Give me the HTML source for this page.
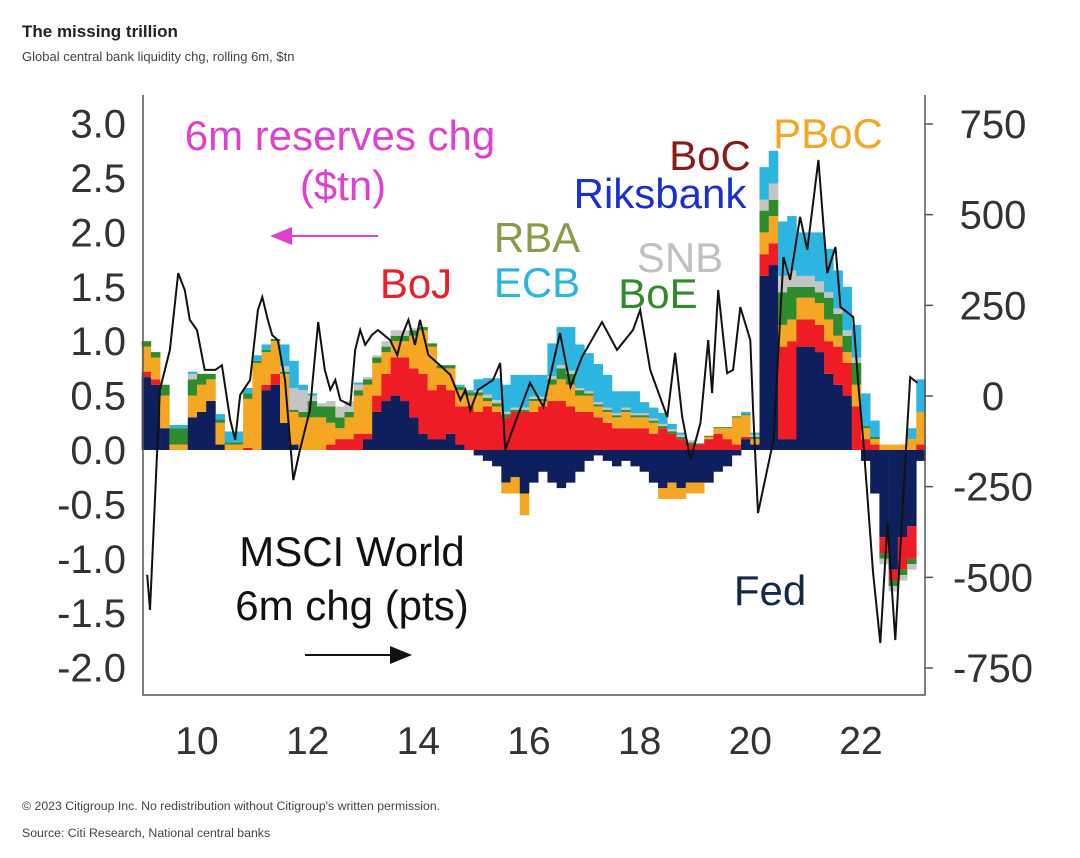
<!DOCTYPE html>
<html><head><meta charset="utf-8"><style>
body{margin:0;background:#fff;}
svg{display:block;font-family:"Liberation Sans",sans-serif;}
</style></head><body>
<svg id="chart" width="1080" height="858" viewBox="0 0 1080 858">
<text x="22" y="37" font-size="17" font-weight="bold" fill="#222">The missing trillion</text>
<text x="22" y="61" font-size="13" fill="#444">Global central bank liquidity chg, rolling 6m, $tn</text>
<g id="bars"></g>
<g id="axes"></g>
<path id="msci" fill="none" stroke="#111" stroke-width="2"/>
<g font-size="42" text-anchor="middle">
<text x="340" y="150" fill="#e040d0">6m reserves chg</text>
<text x="343" y="200" fill="#e040d0">($tn)</text>
<text x="416" y="298" fill="#e8202a">BoJ</text>
<text x="537" y="252" fill="#8a9a4a">RBA</text>
<text x="537" y="297" fill="#2bb5e0">ECB</text>
<text x="680" y="272" fill="#c0c0c0">SNB</text>
<text x="658" y="308" fill="#2e8b2e">BoE</text>
<text x="710" y="170" fill="#8b1a1a">BoC</text>
<text x="660" y="208" fill="#1a2fd0">Riksbank</text>
<text x="828" y="148" fill="#f5a623">PBoC</text>
<text x="352" y="566" fill="#111">MSCI World</text>
<text x="352" y="620" fill="#111">6m chg (pts)</text>
<text x="770" y="605" fill="#14284a">Fed</text>
</g>
<line x1="378" y1="236" x2="290" y2="236" stroke="#e040d0" stroke-width="2"/>
<polygon points="270,236 292,227 292,245" fill="#e040d0"/>
<line x1="305" y1="655" x2="392" y2="655" stroke="#111" stroke-width="2"/>
<polygon points="412,655 390,646 390,664" fill="#111"/>
<text x="22" y="810" font-size="12.3" fill="#444">© 2023 Citigroup Inc. No redistribution without Citigroup's written permission.</text>
<text x="22" y="837" font-size="12.3" fill="#444">Source: Citi Research, National central banks</text>
</svg>
<script>
const startYear = 9.0;
const fed = [0.67,0.6,0.2,0,0,0.3, 0.35,0.45,0.05,0,0,0, 0,0.55,0.6,0.25,0.05,0, 0,0,0,0,0,0, 0.1,0.35,0.45,0.5,0.45,0.3, 0.15,0.1,0.1,0.15,0.05,0, -0.05,-0.1,-0.15,-0.3,-0.25,-0.4, -0.3,-0.2,-0.3,-0.35,-0.3,-0.2, -0.1,-0.05,-0.1,-0.15,-0.1,-0.15, -0.2,-0.3,-0.35,-0.3,-0.35,-0.3, -0.3,-0.3,-0.2,-0.15,-0.05,0.1, 0.05,1.6,1.7,0.1,0.1,0.95, 0.95,0.9,0.7,0.6,0.5,0, -0.1,-0.4,-0.8,-1.1,-0.8,-0.7, -0.1];
const boj = [0.05,0.05,0,0,0,0, 0,0,0,0,0,0.02, 0,0.05,0.1,0,0,0, 0,0,0.05,0.1,0.1,0.15, 0.05,0.15,0.25,0.35,0.4,0.45, 0.55,0.45,0.5,0.4,0.35,0.4, 0.35,0.4,0.35,0.3,0.35,0.35, 0.35,0.4,0.45,0.45,0.4,0.35, 0.35,0.3,0.25,0.2,0.2,0.2, 0.2,0.15,0.2,0.15,0.1,0.05, 0.05,0.1,0.15,0.1,0.05,0.02, 0,0.2,0.2,0.85,0.9,0.25, 0.25,0.25,0.3,0.35,0.3,0.4, 0.1,0.05,-0.15,-0.1,-0.3,-0.3, 0.05];
const pboc = [0.23,0.2,0.3,0.05,0.05,0.2, 0.25,0.2,0.2,0.05,0.05,0.45, 0.8,0.3,0.3,0.45,0.3,0.3, 0.3,0.3,0.2,0.1,0.2,0.35, 0.45,0.3,0.2,0.15,0.15,0.3, 0.4,0.4,0.15,0.2,0.15,0.1, 0.15,0.05,0.05,-0.1,-0.15,-0.2, 0.1,0.05,0.15,0.2,0.2,0.15, 0.15,0.1,0.1,0.1,0.15,0.1, 0.1,0.1,-0.1,-0.15,-0.1,-0.1, -0.1,0.02,0.05,0.1,0.25,0.2, 0.05,0.2,0.25,0.2,0.2,0.2, 0.2,0.2,0.2,0.1,0.1,0.2, 0.1,0.05,0.05,0.05,0.05,0.1, 0.3];
const boe = [0.05,0.05,0.1,0.15,0.15,0.15, 0.1,0.05,0.03,0.02,0.02,0.05, 0.02,0.02,0.02,0.02,0.02,0.05, 0.15,0.1,0.15,0.1,0.05,0.05, 0.05,0.05,0.05,0.05,0.05,0.05, 0.03,0.03,0.03,0.03,0.03,0.03, 0.03,0.03,0.03,0.03,0.02,0.02, 0.02,0.02,0.05,0.1,0.1,0.05, 0.02,0.02,0.02,0.02,0.02,0.02, 0.02,0.02,0.02,0.02,0.02,0.02, 0.01,0.01,0.01,0.01,0.01,0.01, 0.02,0.2,0.15,0.3,0.3,0.1, 0.1,0.1,0.2,0.2,0.15,0.2, 0.02,0.02,-0.05,-0.05,-0.05,-0.05, 0];
const other = [0,0,0,0,0,0.05, 0,0,0,0,0,0, 0,0,0,0.05,0.2,0.2, 0.05,0.03,0.05,0.1,0.1,0.05, 0.02,0.02,0.05,0.05,0.05,0.02, 0,0,0,0,0,0, 0.02,0.03,0.03,0.02,0.02,0.02, 0.02,0.02,0.03,0.03,0.03,0.02, 0.02,0.02,0.02,0.02,0.02,0.02, 0.02,0.02,0.02,0.02,0.02,0.02, 0,0,0,0,0,0, 0.02,0.1,0.15,0.15,0.15,0.1, 0.1,0.1,0.05,0.05,0.05,0.05, 0,0,-0.05,-0.05,-0.05,-0.05, 0];
const ecb = [0,0,0,0.03,0.03,0.02, 0,0,0.05,0.1,0.1,0.05, 0.05,0.05,0,0.2,0.25,0.05, 0.02,0,0,0,0,0.02, 0,0,0,0,0,0, 0,0,0,0,0.02,0.02, 0.1,0.15,0.2,0.25,0.3,0.3, 0.2,0.2,0.3,0.35,0.4,0.4, 0.35,0.35,0.3,0.2,0.15,0.2, 0.1,0.1,0.1,0.05,0.02,0, 0,0,0,0,0,0.02, 0.02,0.3,0.3,0.5,0.5,0.4, 0.4,0.45,0.4,0.35,0.4,0.3, 0.3,0.15,0,0,0,0.1, 0.3];
const msciYears = [9.10,9.15,9.33,9.51,9.66,9.78,9.87,10.0,10.14,10.33,10.45,10.60,10.69,10.78,10.96,11.10,11.18,11.28,11.36,11.46,11.59,11.74,11.86,12.04,12.19,12.31,12.41,12.50,12.59,12.77,12.86,12.95,13.04,13.16,13.27,13.49,13.62,13.71,13.82,13.94,14.03,14.18,14.39,14.58,14.76,14.85,14.94,15.08,15.21,15.35,15.48,15.57,15.75,16.02,16.26,16.56,16.75,16.96,17.32,17.59,17.88,18.01,18.19,18.50,18.64,18.77,18.92,19.10,19.24,19.31,19.42,19.58,19.69,19.82,20.0,20.05,20.14,20.42,20.60,20.72,20.90,21.03,21.23,21.39,21.54,21.63,21.86,21.95,22.04,22.13,22.22,22.35,22.48,22.62,22.77,22.89,23.02];
const msciValues = [-493,-590,17,127,339,292,210,182,72,72,85,-66,-121,3,44,237,273,210,168,154,44,-232,-149,-39,204,72,17,44,-11,-25,127,182,141,168,182,154,113,168,210,141,210,113,85,58,-11,17,-39,17,30,44,91,-149,-74,36,-30,174,25,108,204,127,182,237,72,-58,119,-58,-176,-74,154,8,292,63,72,245,154,-39,-323,-121,383,320,494,403,651,339,411,245,218,36,-121,-306,-488,-681,-350,-673,-259,52,36];
const leftTicks = ["3.0","2.5","2.0","1.5","1.0","0.5","0.0","-0.5","-1.0","-1.5","-2.0"];
const leftTickValues = [3,2.5,2,1.5,1,0.5,0,-0.5,-1,-1.5,-2];
const rightTickValues = [750,500,250,0,-250,-500,-750];
const xTickValues = [10,12,14,16,18,20,22];

const NS='http://www.w3.org/2000/svg';
const X0=143,X1=925,Y0=95,Y1=695;
function xs(y){return 197+(y-10)*55.33;}
function yl(v){return 450-v*108.8;}
function yr(v){return 396-v*(272/750);}
function mk(tag,attrs,parent){const e=document.createElementNS(NS,tag);for(const k in attrs)e.setAttribute(k,attrs[k]);parent.appendChild(e);return e;}

const series=[[fed,'#0d1f5c','fed'],[boj,'#ee1c25','boj'],[pboc,'#f5a623','pboc'],[boe,'#2e8b2e','boe'],[other,'#c4c4c4','snb'],[ecb,'#2bb5e0','ecb']];
const bars=document.getElementById('bars');
const step=1/6;
for(let i=0;i<fed.length;i++){
  let pos=0,neg=0;
  const xa=xs(startYear+i*step),xb=xs(startYear+(i+1)*step);
  for(const [arr,col,nm] of series){
    const v=arr[i]; if(!v) continue;
    let a,b;
    if(v>0){a=pos;b=pos+v;pos=b;}else{a=neg;b=neg+v;neg=b;}
    const r=mk('rect',{x:xa.toFixed(2),width:(xb-xa+0.3).toFixed(2),y:Math.min(yl(a),yl(b)).toFixed(2),height:Math.abs(yl(a)-yl(b)).toFixed(2),fill:col},bars);
    
    
  }
}
const axes=document.getElementById('axes');
const frame=mk('path',{d:`M${X0},${Y0}V${Y1}H${X1}V${Y0}`,fill:'none',stroke:'#555','stroke-width':1.5},axes);


leftTickValues.forEach((v,i)=>{
  const t=mk('text',{x:126,y:yl(v)+14,'text-anchor':'end','font-size':40,fill:'#333'},axes);
  t.textContent=leftTicks[i];
  
  
});
rightTickValues.forEach(v=>{
  const l=mk('line',{x1:X1,x2:X1+8,y1:yr(v),y2:yr(v),stroke:'#555','stroke-width':1.5},axes);
  
  
  const t=mk('text',{x:993,y:yr(v)+14,'text-anchor':'middle','font-size':40,fill:'#333'},axes);
  t.textContent=String(v);
  
  
});
xTickValues.forEach(v=>{
  const t=mk('text',{x:xs(v),y:754,'text-anchor':'middle','font-size':39,fill:'#333'},axes);
  t.textContent=String(v);
  
  
});
let d='';
msciYears.forEach((y,i)=>{d+=(i?'L':'M')+xs(y).toFixed(1)+','+yr(msciValues[i]).toFixed(1);});
document.getElementById('msci').setAttribute('d',d);
</script>
</body></html>
